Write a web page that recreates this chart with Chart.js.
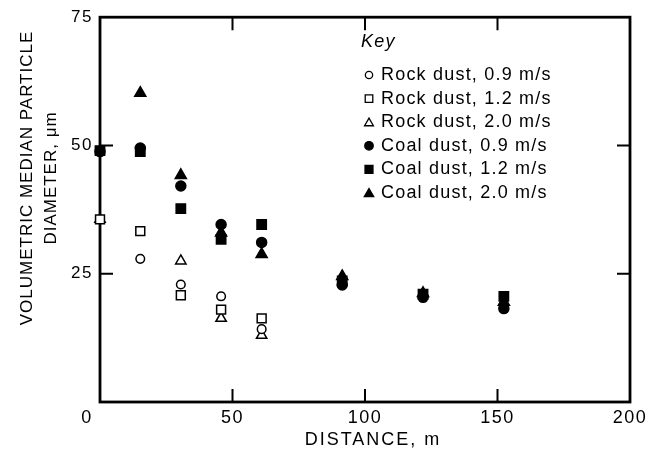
<!DOCTYPE html>
<html>
<head>
<meta charset="utf-8">
<script src="https://cdn.jsdelivr.net/npm/chart.js@4.4.0/dist/chart.umd.min.js"></script>
<style>
  html, body { margin: 0; padding: 0; background: #fff; }
  canvas { display: block; }
</style>
</head>
<body>
<canvas id="chart" width="652" height="454"></canvas>
<script>
// Sampling distances (m) - same stations for every series
const distance = [0, 15.2, 30.5, 45.7, 61.0, 91.4, 121.9, 152.4];

// Volumetric median particle diameter (um), null = not measured
const rock09 = [null, 27.9, 22.9, 20.6, 14.2, null, null, null];
const rock12 = [35.6, 33.3, 20.8, 18.0, 16.3, null, null, null];
const rock20 = [35.6, null, 27.5, 16.3, 13.0, null, null, null];
const coal09 = [48.8, 49.5, 42.1, 34.6, 31.1, 22.8, 20.4, 18.2];
const coal12 = [49.0, 48.8, 37.7, 31.7, 34.6, 23.6, 21.0, 20.6];
const coal20 = [null, 60.2, 44.2, 33.0, 28.8, 24.5, 21.2, 19.5];

const seriesLabels = [
    'Rock dust, 0.9 m/s', 'Rock dust, 1.2 m/s', 'Rock dust, 2.0 m/s',
    'Coal dust, 0.9 m/s', 'Coal dust, 1.2 m/s', 'Coal dust, 2.0 m/s'
];

// Axis ticks
const xTicks = [0, 50, 100, 150, 200];
const yTicks = [0, 25, 50, 75];

const FONT = "'Liberation Sans', Arial, Helvetica, sans-serif";

function toPoints(values) {
    const pts = [];
    values.forEach((v, i) => {
        if (v !== null) pts.push({ x: distance[i], y: v });
    });
    return pts;
}

// marker styles: circle, square, triangle; open then filled
const styles = [
    { pointStyle: 'circle', radius: 4.3, fill: '#fff' },
    { pointStyle: 'rect', radius: 6.3, fill: '#fff' },
    { pointStyle: 'triangle', radius: 6, fill: '#fff' },
    { pointStyle: 'circle', radius: 5, fill: '#000' },
    { pointStyle: 'rect', radius: 6.6, fill: '#000' },
    { pointStyle: 'triangle', radius: 6.4, fill: '#000' }
];

const allSeries = [rock09, rock12, rock20, coal09, coal12, coal20];

const datasets = allSeries.map((vals, i) => ({
    label: seriesLabels[i],
    data: toPoints(vals),
    pointStyle: styles[i].pointStyle,
    pointRadius: styles[i].radius,
    backgroundColor: styles[i].fill,
    borderColor: '#000',
    pointBorderWidth: 1.5,
    showLine: false,
    clip: false
}));

// draw a marker the same way Chart.js does (for the key)
function marker(ctx, style, r, fill, x, y) {
    ctx.beginPath();
    if (style === 'circle') {
        ctx.arc(x, y, r, 0, Math.PI * 2);
    } else if (style === 'rect') {
        const s = Math.SQRT1_2 * r;
        ctx.rect(x - s, y - s, 2 * s, 2 * s);
    } else {
        ctx.moveTo(x, y - r);
        ctx.lineTo(x + 0.866 * r, y + 0.5 * r);
        ctx.lineTo(x - 0.866 * r, y + 0.5 * r);
        ctx.closePath();
    }
    ctx.fillStyle = fill;
    ctx.fill();
    ctx.lineWidth = 1.3;
    ctx.strokeStyle = '#000';
    ctx.stroke();
}

const framePlugin = {
    id: 'frame',
    beforeDraw(chart) {
        chart.ctx.letterSpacing = '1.5px';
    },
    beforeDatasetsDraw(chart) {
        const ctx = chart.ctx;
        const a = chart.chartArea;
        const xs = chart.scales.x, ys = chart.scales.y;
        const tick = 13;
        ctx.save();
        ctx.strokeStyle = '#000';
        ctx.lineWidth = 2;
        ctx.beginPath();
        xs.ticks.forEach(t => {
            if (t.value <= xs.min || t.value >= xs.max) return;
            const px = xs.getPixelForValue(t.value);
            ctx.moveTo(px, a.bottom); ctx.lineTo(px, a.bottom - tick);
            ctx.moveTo(px, a.top); ctx.lineTo(px, a.top + tick);
        });
        ys.ticks.forEach(t => {
            if (t.value <= ys.min || t.value >= ys.max) return;
            const py = ys.getPixelForValue(t.value);
            ctx.moveTo(a.left, py); ctx.lineTo(a.left + tick, py);
            ctx.moveTo(a.right, py); ctx.lineTo(a.right - tick, py);
        });
        ctx.stroke();
        ctx.lineWidth = 2.8;
        ctx.strokeRect(a.left, a.top, a.right - a.left, a.bottom - a.top);
        ctx.restore();
    },
    afterDraw(chart) {
        const ctx = chart.ctx;
        const a = chart.chartArea;
        const xs = chart.scales.x;
        ctx.save();
        ctx.fillStyle = '#000';
        ctx.letterSpacing = '1.5px';

        // shared origin label
        ctx.font = '18px ' + FONT;
        ctx.textAlign = 'center';
        ctx.textBaseline = 'middle';
        ctx.fillText('0', xs.getPixelForValue(0) - 13, a.bottom + 16);

        // x axis title
        ctx.letterSpacing = '2px';
        ctx.fillText('DISTANCE, m', 373, 440);

        // y axis title (two lines)
        ctx.letterSpacing = '1px';
        ctx.font = '17px ' + FONT;
        ctx.save();
        ctx.translate(27, 178);
        ctx.rotate(-Math.PI / 2);
        ctx.fillText('VOLUMETRIC MEDIAN PARTICLE', 0, 0);
        ctx.restore();
        ctx.save();
        ctx.translate(51, 178);
        ctx.rotate(-Math.PI / 2);
        ctx.fillText('DIAMETER, \u03bcm', 0, 0);
        ctx.restore();

        // key
        ctx.letterSpacing = '1.2px';
        ctx.textAlign = 'left';
        ctx.font = 'italic 18px ' + FONT;
        ctx.fillText('Key', 361, 42);
        ctx.font = '18px ' + FONT;
        seriesLabels.forEach((lab, i) => {
            const y = 75 + i * 23.6;
            const st = styles[i];
            marker(ctx, st.pointStyle, st.radius * 0.85, st.fill, 369, st.pointStyle === 'triangle' ? y + 1 : y);
            ctx.fillStyle = '#000';
            ctx.fillText(lab, 381, y);
        });
        ctx.restore();
    }
};

Chart.defaults.color = '#000';
Chart.defaults.font.family = FONT;

new Chart(document.getElementById('chart'), {
    type: 'scatter',
    data: { datasets: datasets },
    options: {
        responsive: false,
        animation: false,
        events: [],
        layout: { padding: { left: 0, right: 22, top: 13, bottom: 0 } },
        plugins: {
            legend: { display: false },
            tooltip: { enabled: false }
        },
        scales: {
            x: {
                type: 'linear',
                min: xTicks[0],
                max: xTicks[xTicks.length - 1],
                grid: { display: false, drawTicks: false },
                border: { display: false },
                ticks: {
                    stepSize: xTicks[1] - xTicks[0],
                    padding: 5,
                    font: { size: 18 },
                    callback: v => (v === 0 ? '' : v)
                },
                afterFit: s => { s.height = 52; }
            },
            y: {
                min: yTicks[0],
                max: yTicks[yTicks.length - 1],
                grid: { display: false, drawTicks: false },
                border: { display: false },
                ticks: {
                    stepSize: yTicks[1] - yTicks[0],
                    padding: 7,
                    font: { size: 17 },
                    callback: v => (v === 0 ? '' : v)
                },
                afterFit: s => { s.width = 100; }
            }
        }
    },
    plugins: [framePlugin]
});
</script>
</body>
</html>
